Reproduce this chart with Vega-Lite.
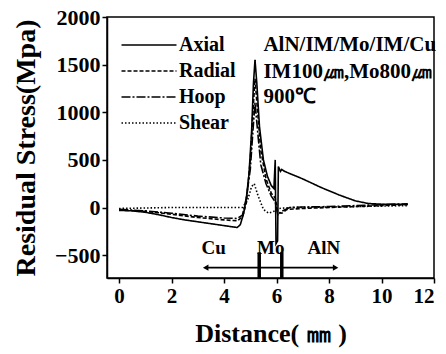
{
  "$schema": "https://vega.github.io/schema/vega-lite/v6.json",
  "width": 327,
  "height": 261,
  "autosize": {"type": "none"},
  "padding": {"left": 107, "top": 17, "right": 12, "bottom": 76},
  "background": "white",
  "config": {
    "font": "Liberation Serif",
    "view": {"stroke": "black", "strokeWidth": 1.5},
    "style": {"guide-label": {"font": "Liberation Serif", "fontWeight": "bold"}, "guide-title": {"font": "Liberation Serif", "fontWeight": "bold"}},
    "axis": {"grid": false, "domainColor": "black", "tickColor": "black", "labelColor": "black", "titleColor": "black", "labelFont": "Liberation Serif", "titleFont": "Liberation Serif", "labelFontWeight": "bold", "titleFontWeight": "bold"}
  },
  "layer": [
    {
      "data": {"values": [
        {"x": 0, "y": -30, "s": "Axial"}, {"x": 0.5, "y": -35, "s": "Axial"}, {"x": 1, "y": -50, "s": "Axial"}, {"x": 1.5, "y": -75, "s": "Axial"}, {"x": 2, "y": -105, "s": "Axial"}, {"x": 2.5, "y": -130, "s": "Axial"}, {"x": 3, "y": -150, "s": "Axial"}, {"x": 3.5, "y": -170, "s": "Axial"}, {"x": 4, "y": -190, "s": "Axial"}, {"x": 4.5, "y": -210, "s": "Axial"}, {"x": 4.62, "y": -180, "s": "Axial"}, {"x": 4.75, "y": -60, "s": "Axial"}, {"x": 4.85, "y": 100, "s": "Axial"}, {"x": 4.95, "y": 350, "s": "Axial"}, {"x": 5.05, "y": 800, "s": "Axial"}, {"x": 5.12, "y": 1300, "s": "Axial"}, {"x": 5.18, "y": 1550, "s": "Axial"}, {"x": 5.25, "y": 1300, "s": "Axial"}, {"x": 5.35, "y": 850, "s": "Axial"}, {"x": 5.5, "y": 500, "s": "Axial"}, {"x": 5.65, "y": 330, "s": "Axial"}, {"x": 5.8, "y": 230, "s": "Axial"}, {"x": 5.9, "y": 200, "s": "Axial"}, {"x": 5.95, "y": 500, "s": "Axial"}, {"x": 5.98, "y": -380, "s": "Axial"}, {"x": 6.04, "y": -350, "s": "Axial"}, {"x": 6.07, "y": 430, "s": "Axial"}, {"x": 6.15, "y": 380, "s": "Axial"}, {"x": 6.2, "y": 400, "s": "Axial"}, {"x": 6.3, "y": 380, "s": "Axial"}, {"x": 7, "y": 300, "s": "Axial"}, {"x": 7.7, "y": 210, "s": "Axial"}, {"x": 8.4, "y": 130, "s": "Axial"}, {"x": 9, "y": 70, "s": "Axial"}, {"x": 9.5, "y": 42, "s": "Axial"}, {"x": 10, "y": 35, "s": "Axial"}, {"x": 11, "y": 35, "s": "Axial"},
        {"x": 0, "y": -25, "s": "Radial"}, {"x": 1, "y": -40, "s": "Radial"}, {"x": 2, "y": -70, "s": "Radial"}, {"x": 3, "y": -105, "s": "Radial"}, {"x": 4, "y": -130, "s": "Radial"}, {"x": 4.5, "y": -140, "s": "Radial"}, {"x": 4.7, "y": -100, "s": "Radial"}, {"x": 4.85, "y": 50, "s": "Radial"}, {"x": 5.0, "y": 500, "s": "Radial"}, {"x": 5.1, "y": 1000, "s": "Radial"}, {"x": 5.18, "y": 1350, "s": "Radial"}, {"x": 5.28, "y": 1000, "s": "Radial"}, {"x": 5.4, "y": 600, "s": "Radial"}, {"x": 5.6, "y": 300, "s": "Radial"}, {"x": 5.8, "y": 150, "s": "Radial"}, {"x": 5.95, "y": 100, "s": "Radial"}, {"x": 6.05, "y": -50, "s": "Radial"}, {"x": 6.2, "y": -60, "s": "Radial"}, {"x": 6.4, "y": -20, "s": "Radial"}, {"x": 7, "y": -10, "s": "Radial"}, {"x": 8, "y": 0, "s": "Radial"}, {"x": 9, "y": 10, "s": "Radial"}, {"x": 10, "y": 20, "s": "Radial"}, {"x": 11, "y": 30, "s": "Radial"},
        {"x": 0, "y": -20, "s": "Hoop"}, {"x": 1, "y": -35, "s": "Hoop"}, {"x": 2, "y": -60, "s": "Hoop"}, {"x": 3, "y": -90, "s": "Hoop"}, {"x": 4, "y": -110, "s": "Hoop"}, {"x": 4.5, "y": -115, "s": "Hoop"}, {"x": 4.7, "y": -80, "s": "Hoop"}, {"x": 4.85, "y": 100, "s": "Hoop"}, {"x": 5.0, "y": 400, "s": "Hoop"}, {"x": 5.1, "y": 800, "s": "Hoop"}, {"x": 5.18, "y": 1100, "s": "Hoop"}, {"x": 5.28, "y": 800, "s": "Hoop"}, {"x": 5.4, "y": 450, "s": "Hoop"}, {"x": 5.6, "y": 250, "s": "Hoop"}, {"x": 5.8, "y": 120, "s": "Hoop"}, {"x": 5.95, "y": 60, "s": "Hoop"}, {"x": 6.05, "y": -80, "s": "Hoop"}, {"x": 6.2, "y": -40, "s": "Hoop"}, {"x": 6.5, "y": 0, "s": "Hoop"}, {"x": 7, "y": 5, "s": "Hoop"}, {"x": 8, "y": 10, "s": "Hoop"}, {"x": 9, "y": 20, "s": "Hoop"}, {"x": 10, "y": 30, "s": "Hoop"}, {"x": 11, "y": 40, "s": "Hoop"},
        {"x": 0, "y": -10, "s": "Shear"}, {"x": 1, "y": -5, "s": "Shear"}, {"x": 2, "y": 0, "s": "Shear"}, {"x": 3, "y": 0, "s": "Shear"}, {"x": 4, "y": 0, "s": "Shear"}, {"x": 4.7, "y": 0, "s": "Shear"}, {"x": 4.9, "y": 80, "s": "Shear"}, {"x": 5.05, "y": 220, "s": "Shear"}, {"x": 5.15, "y": 250, "s": "Shear"}, {"x": 5.3, "y": 120, "s": "Shear"}, {"x": 5.5, "y": -20, "s": "Shear"}, {"x": 5.7, "y": -60, "s": "Shear"}, {"x": 5.9, "y": -40, "s": "Shear"}, {"x": 6.1, "y": -10, "s": "Shear"}, {"x": 6.5, "y": 0, "s": "Shear"}, {"x": 8, "y": 5, "s": "Shear"}, {"x": 11, "y": 20, "s": "Shear"}
      ]},
      "mark": {"type": "line", "color": "black", "strokeWidth": 1.6},
      "encoding": {
        "x": {"field": "x", "type": "quantitative", "scale": {"domain": [-0.46, 12], "nice": false, "zero": false},
          "axis": {"values": [0, 2, 4, 6, 8, 10, 12], "format": "d", "title": "Distance( ㎜ )", "labelFont": "Liberation Serif", "labelFontWeight": "bold", "labelFontSize": 21, "titleFontSize": 26, "tickSize": 5, "tickWidth": 1.5, "domainWidth": 1.5, "labelPadding": 2, "titlePadding": 14}},
        "y": {"field": "y", "type": "quantitative", "scale": {"domain": [-740, 2000], "nice": false, "zero": false},
          "axis": {"values": [-500, 0, 500, 1000, 1500, 2000], "format": "d", "title": "Residual Stress(Mpa)", "labelFont": "Liberation Serif", "labelFontWeight": "bold", "labelFontSize": 22, "titleFontSize": 28, "tickSize": 5, "tickWidth": 1.5, "domainWidth": 1.5, "labelPadding": 2, "titlePadding": 14}},
        "strokeDash": {"field": "s", "type": "nominal",
          "scale": {"domain": ["Axial", "Radial", "Hoop", "Shear"], "range": [[1, 0], [4, 2], [9, 2, 2, 2], [1.5, 2]]},
          "legend": {"title": null, "orient": "none", "legendX": 32, "legendY": 18, "padding": 0, "symbolType": "M-5.5,0H5.5", "symbolSize": 100, "symbolStrokeWidth": 1.5, "symbolStrokeColor": "black", "symbolFillColor": "transparent", "labelFontSize": 20, "labelFontWeight": "bold", "labelFont": "Liberation Serif", "labelColor": "black", "rowPadding": 6, "labelOffset": 20}
        },
        "order": {"field": "x", "type": "quantitative"}
      }
    },
    {
      "data": {"values": [
        {"x": 5.5, "y": 1705, "t": "AlN/IM/Mo/IM/Cu"},
        {"x": 5.5, "y": 1420, "t": "IM100㎛,Mo800㎛"},
        {"x": 5.5, "y": 1160, "t": "900℃"}
      ]},
      "mark": {"type": "text", "align": "left", "baseline": "middle", "fontSize": 21, "fontWeight": "bold", "font": "Liberation Serif", "color": "black"},
      "encoding": {"x": {"field": "x", "type": "quantitative"}, "y": {"field": "y", "type": "quantitative"}, "text": {"field": "t"}}
    },
    {
      "data": {"values": [
        {"x": 3.6, "y": -425, "t": "Cu"},
        {"x": 5.78, "y": -425, "t": "Mo"},
        {"x": 7.8, "y": -425, "t": "AlN"}
      ]},
      "mark": {"type": "text", "align": "center", "baseline": "middle", "fontSize": 19, "fontWeight": "bold", "font": "Liberation Serif", "color": "black"},
      "encoding": {"x": {"field": "x", "type": "quantitative"}, "y": {"field": "y", "type": "quantitative"}, "text": {"field": "t"}}
    },
    {
      "data": {"values": [{"x1": 3.3, "x2": 8.25, "y": -632}]},
      "mark": {"type": "rule", "color": "black", "strokeWidth": 1.8},
      "encoding": {"x": {"field": "x1", "type": "quantitative"}, "x2": {"field": "x2"}, "y": {"field": "y", "type": "quantitative"}}
    },
    {
      "data": {"values": [{"x": 3.3, "y": -632, "d": "L"}, {"x": 8.25, "y": -632, "d": "R"}]},
      "mark": {"type": "point", "filled": true, "color": "black", "size": 40, "opacity": 1},
      "encoding": {"x": {"field": "x", "type": "quantitative"}, "y": {"field": "y", "type": "quantitative"},
        "shape": {"field": "d", "type": "nominal", "scale": {"domain": ["L", "R"], "range": ["triangle-left", "triangle-right"]}, "legend": null}}
    },
    {
      "data": {"values": [{"x": 5.34, "y1": -470, "y2": -740}, {"x": 6.2, "y1": -470, "y2": -740}]},
      "mark": {"type": "rule", "color": "black", "strokeWidth": 3.5},
      "encoding": {"x": {"field": "x", "type": "quantitative"}, "y": {"field": "y1", "type": "quantitative"}, "y2": {"field": "y2"}}
    }
  ]
}
